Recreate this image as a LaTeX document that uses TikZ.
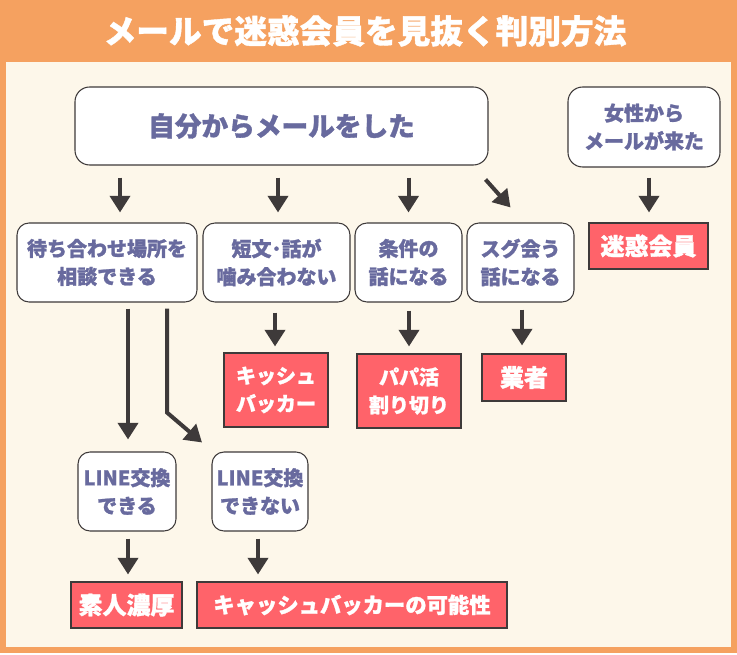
\documentclass[tikz,border=0pt]{standalone}
\usepackage{fontspec}
\setmainfont{Noto Sans CJK JP}[BoldFeatures={FakeBold=1.2}]
\usepackage{tikz}
\usetikzlibrary{positioning,calc,arrows.meta}
\definecolor{frameOrange}{RGB}{245,161,96}
\definecolor{paperCream}{RGB}{253,247,234}
\definecolor{askSlate}{RGB}{104,106,158}
\definecolor{verdictRed}{RGB}{255,99,106}
\definecolor{arrowDark}{RGB}{62,58,58}
\tikzset{
  askbox/.style={draw=arrowDark,line width=0.8pt,fill=white,rounded corners=9pt,
                 text=askSlate,font=\bfseries\fontsize{15}{21}\selectfont,align=center,inner sep=0pt},
  verdict/.style={draw=arrowDark,line width=0.8pt,fill=verdictRed,text=white,
                  font=\bfseries\fontsize{15}{21}\selectfont,align=center,inner sep=0pt},
  flow/.style={arrowDark,line width=3pt,-{Triangle[width=15pt,length=12.5pt]}}
}

\begin{document}
\begin{tikzpicture}[x=0.75pt,y=-0.75pt]
  \useasboundingbox (0,0) rectangle (737,655);
  \fill[white] (0,0) rectangle (737,655);
  \fill[frameOrange] (0,0) rectangle (737,653);
  \fill[paperCream] (6,62) rectangle (731,647);
  \node[text=white,font=\bfseries\fontsize{24.5}{30}\selectfont] (title) at (365,31) {メールで迷惑会員を見抜く判別方法};

  % questions
  \node[askbox,rounded corners=11pt,minimum width=309.75pt,minimum height=58.5pt,
        font=\bfseries\fontsize{20}{24}\selectfont] (self) at (281.5,126) {自分からメールをした};
  \node[askbox,rounded corners=11pt,minimum width=114pt,minimum height=60pt] (woman) at (644,127) {女性から\\メールが来た};
  \node[askbox,minimum width=135pt,minimum height=59.25pt] (meet) at (107,262.5) {待ち合わせ場所を\\相談できる};
  \node[askbox,minimum width=110.25pt,minimum height=59.25pt] (short) at (276.5,262.5) {短文･話が\\噛み合わない};
  \node[askbox,minimum width=80.25pt,minimum height=59.25pt] (terms) at (408.5,262.5) {条件の\\話になる};
  \node[askbox,minimum width=80.25pt,minimum height=59.25pt] (soon) at (520.5,262.5) {スグ会う\\話になる};
  \node[askbox,minimum width=73.5pt,minimum height=59.25pt] (lineok) at (127,491.5) {LINE交換\\できる};
  \node[askbox,minimum width=72pt,minimum height=59.25pt] (lineng) at (260,491.5) {LINE交換\\できない};

  % verdicts
  \node[verdict,minimum width=89.25pt,minimum height=34.5pt,font=\bfseries\fontsize{18}{22}\selectfont] (spam) at (648.5,246) {迷惑会員};
  \node[verdict,minimum width=78pt,minimum height=55.5pt] (cash) at (276,390) {キッシュ\\バッカー};
  \node[verdict,minimum width=78pt,minimum height=55.5pt] (papa) at (409,391) {パパ活\\割り切り};
  \node[verdict,minimum width=63pt,minimum height=35.25pt,font=\bfseries\fontsize{18}{22}\selectfont] (vendor) at (524,377.5) {業者};
  \node[verdict,minimum width=83.25pt,minimum height=34.5pt,font=\bfseries\fontsize{18}{22}\selectfont] (amateur) at (126.5,605) {素人濃厚};
  \node[verdict,minimum width=232.5pt,minimum height=34.5pt,font=\bfseries\fontsize{16}{20}\selectfont] (maybecash) at (352,605) {キャッシュバッカーの可能性};

  \draw[flow] ($(self.south -| meet.north)+(13,12)$) -- ($(meet.north)+(13,-10)$);
  \draw[flow] ($(self.south -| short.north)+(1.5,12)$) -- ($(short.north)+(1.5,-10)$);
  \draw[flow] ($(self.south -| terms.north)+(0,12)$) -- ($(terms.north)+(0,-10)$);
  \draw[flow] ($(self.south east)+(-3,14)$) -- ($(soon.north)+(-10,-15)$);
  \draw[flow] ($(woman.south)+(5,10)$) -- ($(spam.north)+(0.5,-10)$);
  \draw[flow] ($(meet.south -| lineok.north)+(1,6)$) -- ($(lineok.north)+(1,-12)$);
  \draw[flow] ($(meet.south)+(60,6)$) -- ++(0,104) -- ($(lineng.north)+(-58,-9)$);
  \draw[flow] ($(short.south)+(-1.5,10)$) -- ($(cash.north)+(-1,-6)$);
  \draw[flow] ($(terms.south)+(0.5,8)$) -- ($(papa.north)+(0,-7)$);
  \draw[flow] ($(soon.south)+(1.5,7)$) -- ($(vendor.north)+(-2,-8)$);
  \draw[flow] ($(lineok.south)+(1,7)$) -- ($(amateur.north)+(1.5,-7)$);
  \draw[flow] ($(lineng.south)+(-2,7)$) -- ($(maybecash.north -| lineng.south)+(-2,-7)$);
\end{tikzpicture}
\end{document}
